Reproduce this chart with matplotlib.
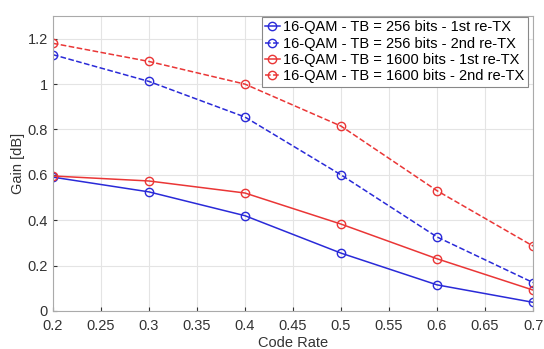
import matplotlib
matplotlib.use('Agg')
import matplotlib.pyplot as plt

plt.rcParams['font.family'] = ['Liberation Sans', 'DejaVu Sans']

code_rate = [0.2, 0.3, 0.4, 0.5, 0.6, 0.7]
tb256_1st = [0.59, 0.525, 0.42, 0.255, 0.115, 0.038]
tb256_2nd = [1.13, 1.012, 0.855, 0.60, 0.326, 0.125]
tb1600_1st = [0.595, 0.573, 0.52, 0.383, 0.23, 0.092]
tb1600_2nd = [1.18, 1.10, 1.0, 0.815, 0.53, 0.286]

labels = [
    '16-QAM - TB = 256 bits - 1st re-TX',
    '16-QAM - TB = 256 bits - 2nd re-TX',
    '16-QAM - TB = 1600 bits - 1st re-TX',
    '16-QAM - TB = 1600 bits - 2nd re-TX',
]

fig = plt.figure(figsize=(5.44, 3.49), dpi=100)
ax = fig.add_axes([0.097, 0.109, 0.883, 0.845])

blue = '#2a2ad8'
red = '#ea3636'
ax.plot(code_rate, tb256_1st, color=blue, marker='o', mfc='none', ms=6, lw=1.1, label=labels[0])
ax.plot(code_rate, tb256_2nd, color=blue, marker='o', mfc='none', ms=6, lw=1.1, ls='--', label=labels[1])
ax.plot(code_rate, tb1600_1st, color=red, marker='o', mfc='none', ms=6, lw=1.1, label=labels[2])
ax.plot(code_rate, tb1600_2nd, color=red, marker='o', mfc='none', ms=6, lw=1.1, ls='--', label=labels[3])

ax.set_xlim(0.2, 0.7)
ax.set_ylim(0, 1.3)
ax.set_xticks([0.2, 0.25, 0.3, 0.35, 0.4, 0.45, 0.5, 0.55, 0.6, 0.65, 0.7])
ax.set_xticklabels(['0.2', '0.25', '0.3', '0.35', '0.4', '0.45', '0.5', '0.55', '0.6', '0.65', '0.7'])
ax.set_yticks([0, 0.2, 0.4, 0.6, 0.8, 1.0, 1.2])
ax.set_yticklabels(['0', '0.2', '0.4', '0.6', '0.8', '1', '1.2'])
ax.grid(True, color='#e4e4e4', lw=0.8)
ax.tick_params(labelsize=10.5, colors='#333333', direction='in', length=3)
ax.tick_params(axis='x', pad=6)
for s in ax.spines.values():
    s.set_color('#aaaaaa')
ax.set_xlabel('Code Rate', fontsize=10.5, color='#333333', labelpad=2)
ax.set_ylabel('Gain [dB]', fontsize=10.5, color='#333333', labelpad=2)

leg = ax.legend(loc='upper right', fontsize=10.5, handlelength=1.0, handletextpad=0.2,
                borderpad=0.25, labelspacing=0.15, fancybox=False, framealpha=1,
                borderaxespad=0.05, bbox_to_anchor=(0.99, 1.0))
leg.get_frame().set_edgecolor('#888888')
leg.get_frame().set_linewidth(0.8)

fig.savefig('out.png', dpi=100)
